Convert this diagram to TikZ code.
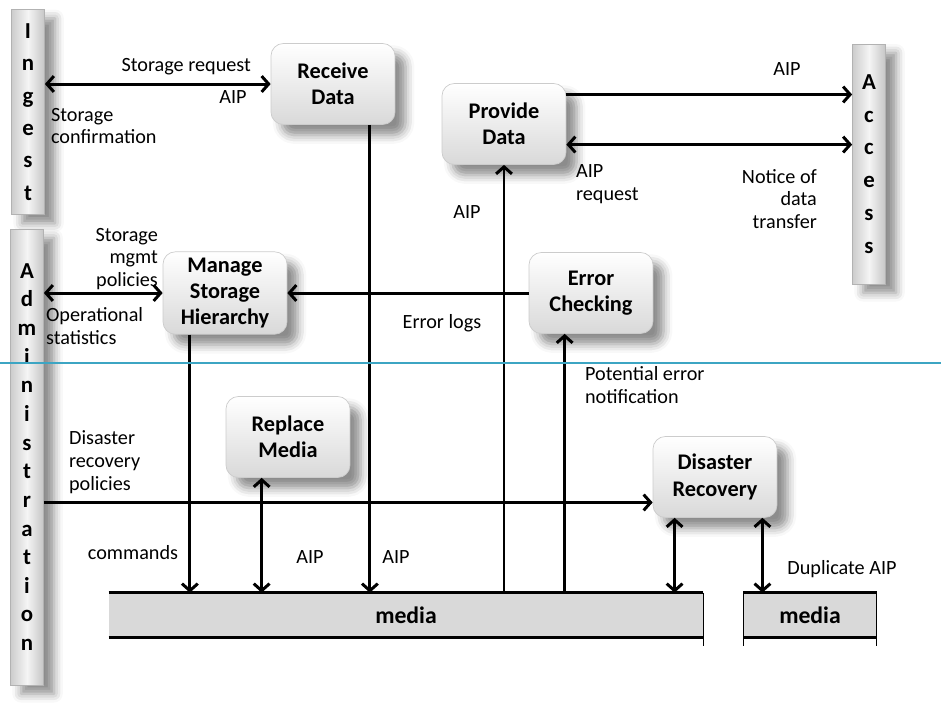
\documentclass[tikz,border=0pt]{standalone}
\usepackage{fontspec}
\setmainfont{Carlito}
\usetikzlibrary{arrows.meta,shadows.blur}
\definecolor{sepline}{RGB}{60,165,195}

\begin{document}
\begin{tikzpicture}[x=0.02cm,y=-0.02cm,
  proc/.style={draw=gray!40, rounded corners=7pt, top color=white, bottom color=gray!30, minimum width=2.48cm, minimum height=1.62cm, align=center, font=\bfseries\fontsize{12.7}{15}\selectfont, blur shadow={shadow xshift=6pt, shadow yshift=-6pt, shadow blur radius=5pt, shadow opacity=45}},
  bar/.style={draw=gray!60, left color=gray!40, right color=gray!45, middle color=gray!8, minimum width=0.66cm, inner sep=0pt, align=center, blur shadow={shadow xshift=6pt, shadow yshift=-5pt, shadow blur radius=5pt, shadow opacity=45}},
  mediabox/.style={fill=gray!30, minimum height=0.88cm, inner sep=0pt, font=\bfseries\fontsize{13.5}{16}\selectfont},
  lbl/.style={font=\fontsize{11.5}{13}\selectfont, inner sep=1pt},
  flow/.style={line width=1.7pt, -{Straight Barb[length=4pt,width=9pt]}},
  twoway/.style={line width=1.7pt, {Straight Barb[length=4pt,width=9pt]}-{Straight Barb[length=4pt,width=9pt]}}
]
\useasboundingbox (0,0) rectangle (941,708);

\node[bar, minimum height=4.1cm, font=\bfseries\fontsize{13}{18.4}\selectfont] (ingest) at (28,112) {I\\n\\g\\e\\s\\t};
\node[bar, minimum height=9.12cm, font=\bfseries\fontsize{13}{16.3}\selectfont] (admin) at (27,457) {A\\d\\m\\i\\n\\i\\s\\t\\r\\a\\t\\i\\o\\n};
\node[bar, minimum height=4.8cm, font=\bfseries\fontsize{13}{18.7}\selectfont] (access) at (869,164) {A\\c\\c\\e\\s\\s};

\node[proc] (receive) at (333,84) {Receive\\Data};
\node[proc] (provide) at (504,124) {Provide\\Data};
\node[proc] (msh) at (225,293) {Manage\\Storage\\Hierarchy};
\node[proc] (error) at (591,293) {Error\\Checking};
\node[proc] (replace) at (288,437) {Replace\\Media};
\node[proc] (disaster) at (715,477) {Disaster\\Recovery};

\node[mediabox, minimum width=11.88cm] (media1) at (406,615) {media};
\node[mediabox, minimum width=2.66cm] (media2) at (810,615) {media};
\draw[line width=1.5pt] (media1.north west) -- (media1.north east);
\draw[line width=1.5pt] (media1.south west) -- (media1.south east);
\draw[line width=1.5pt] (media2.north west) -- (media2.north east);
\draw[line width=1.5pt] (media2.south west) -- (media2.south east);
\draw[thin] (media1.north east) -- ([yshift=-5pt]media1.south east);
\draw[thin] (media2.north west) -- ([yshift=-5pt]media2.south west);
\draw[thin] (media2.north east) -- ([yshift=-5pt]media2.south east);

\draw[twoway] (receive.west -| ingest.east) -- (receive.west);
\draw[twoway] (msh.west -| admin.east) -- (msh.west);
\coordinate (drin) at ([yshift=-14.5pt]disaster.west);
\draw[flow] (drin -| admin.east) -- (drin);
\coordinate (pdout) at ([yshift=16.8pt]provide.east);
\draw[flow] (pdout) -- (pdout -| access.west);
\coordinate (pdin) at ([yshift=-11.7pt]provide.east);
\draw[twoway] (pdin) -- (pdin -| access.west);
\coordinate (rdout) at ([xshift=21pt]receive.south);
\draw[flow] (rdout) -- (rdout |- media1.north);
\coordinate (mshout) at ([xshift=-20pt]msh.south);
\draw[flow] (mshout) -- (mshout |- media1.north);
\coordinate (rmio) at ([xshift=-15pt]replace.south);
\draw[twoway] (rmio) -- (rmio |- media1.north);
\draw[flow] (provide.south |- media1.north) -- (provide.south);
\coordinate (ecin) at ([xshift=-15pt]error.south);
\draw[flow] (ecin |- media1.north) -- (ecin);
\draw[flow] (error.west) -- (msh.east);
\coordinate (drl) at ([xshift=-23pt]disaster.south);
\draw[twoway] (drl) -- (drl |- media1.north);
\coordinate (drr) at ([xshift=27pt]disaster.south);
\draw[twoway] (drr) -- (drr |- media2.north);

\node[lbl, anchor=east] (lsreq) at (253,67) {Storage request};
\node[lbl] (laipin) at (233,97) {AIP};
\node[lbl, anchor=west, align=left] (lsconf) at (49,126) {Storage\\confirmation};
\node[lbl, anchor=east, align=right] (lpol) at (160,259) {Storage\\mgmt\\policies};
\node[lbl, anchor=west, align=left] (lstat) at (44,326) {Operational\\statistics};
\node[lbl] (llogs) at (442,323) {Error logs};
\node[lbl] (laipup) at (467,212) {AIP};
\node[lbl, anchor=west, align=left] (laipreq) at (574,184) {AIP\\request};
\node[lbl, anchor=east, align=right] (lnotice) at (819,199) {Notice of\\data\\transfer};
\node[lbl] (laipout) at (787,69) {AIP};
\node[lbl, anchor=west, align=left] (lnotif) at (583,385) {Potential error\\notification};
\node[lbl, anchor=west, align=left] (ldpol) at (67,462) {Disaster\\recovery\\policies};
\node[lbl] (lcmd) at (133,553) {commands};
\node[lbl] (laiprm) at (310,557) {AIP};
\node[lbl] (laiprd) at (396,557) {AIP};
\node[lbl] (ldup) at (842,569) {Duplicate AIP};

\draw[sepline, line width=0.8pt] (0,363) -- (941,363);
\end{tikzpicture}
\end{document}
